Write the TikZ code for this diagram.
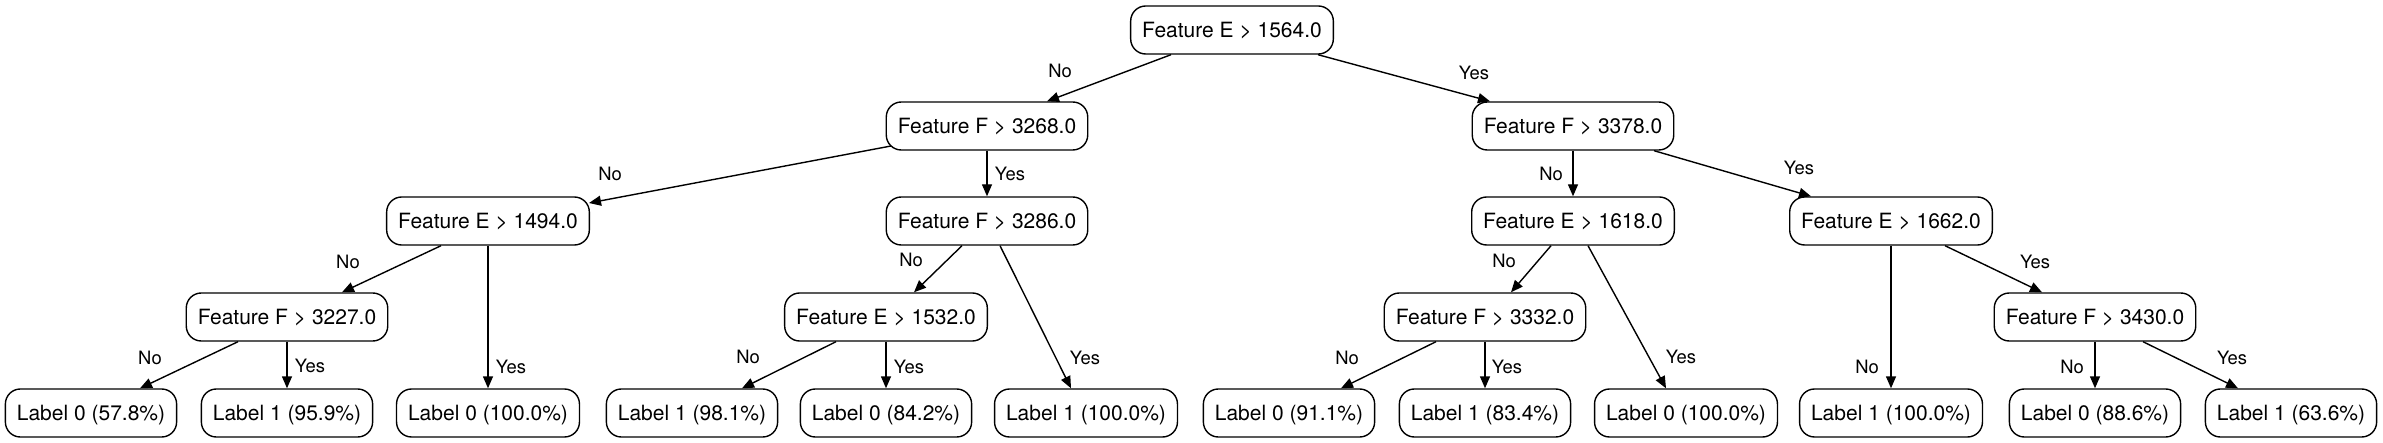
\documentclass[tikz,border=0pt]{standalone}
\usepackage{fontspec}
\setmainfont{TeX Gyre Heros}
\usetikzlibrary{arrows.meta,calc}

\begin{document}
\begin{tikzpicture}[
	x=0.5pt, y=-0.5pt,
	cond/.style={
		draw, rounded corners=7.5pt, line width=0.7pt,
		minimum height=24pt, inner xsep=5.75pt, inner ysep=0pt,
		text height=7.6pt, text depth=0pt,
		font=\fontsize{10.5}{12}\selectfont
	},
	leaf/.style={cond},
	branch/.style={-{Triangle[length=6pt,width=5pt]}, line width=0.7pt},
	answer/.style={font=\fontsize{9.2}{11}\selectfont, inner sep=0pt}
	]
	\useasboundingbox (0,0) rectangle (2383,443);
	% split nodes
	\node[cond] (root) at (1232,30) {Feature E > 1564.0};
	\node[cond] (n1) at (987,126) {Feature F > 3268.0};
	\node[cond] (n2) at (1573,126) {Feature F > 3378.0};
	\node[cond] (n3) at (488,221) {Feature E > 1494.0};
	\node[cond] (n4) at (987,221) {Feature F > 3286.0};
	\node[cond] (n5) at (1573,221) {Feature E > 1618.0};
	\node[cond] (n6) at (1891,221) {Feature E > 1662.0};
	\node[cond] (n7) at (287,317) {Feature F > 3227.0};
	\node[cond] (n8) at (886,317) {Feature E > 1532.0};
	\node[cond] (n9) at (1485,317) {Feature F > 3332.0};
	\node[cond] (n10) at (2095,317) {Feature F > 3430.0};
	% leaves
	\node[leaf] (l1) at (91,413) {Label 0 (57.8\%)};
	\node[leaf] (l2) at (287,413) {Label 1 (95.9\%)};
	\node[leaf] (l3) at (488,413) {Label 0 (100.0\%)};
	\node[leaf] (l4) at (692,413) {Label 1 (98.1\%)};
	\node[leaf] (l5) at (886,413) {Label 0 (84.2\%)};
	\node[leaf] (l6) at (1086,413) {Label 1 (100.0\%)};
	\node[leaf] (l7) at (1289,413) {Label 0 (91.1\%)};
	\node[leaf] (l8) at (1485,413) {Label 1 (83.4\%)};
	\node[leaf] (l9) at (1686,413) {Label 0 (100.0\%)};
	\node[leaf] (l10) at (1891,413) {Label 1 (100.0\%)};
	\node[leaf] (l11) at (2095,413) {Label 0 (88.6\%)};
	\node[leaf] (l12) at (2291,413) {Label 1 (63.6\%)};
	% branches
	\draw[branch] ($(root.south)+(-61,0)$) -- ($(n1.north)+(60,0)$);
	\draw[branch] ($(root.south)+(86,0)$) -- ($(n2.north)+(-83,0)$);
	\draw[branch] ($(n1)+(-96,20)$) -- ($(n3)+(101,-18)$);
	\draw[branch] (n1) -- (n4);
	\draw[branch] (n2) -- (n5);
	\draw[branch] ($(n2.south)+(81,0)$) -- ($(n6.north)+(-80,0)$);
	\draw[branch] ($(n3.south)+(-47,0)$) -- ($(n7.north)+(55,0)$);
	\draw[branch] (n3) -- (l3);
	\draw[branch] ($(n4.south)+(-25,0)$) -- ($(n8.north)+(28,0)$);
	\draw[branch] ($(n4.south)+(13,0)$) -- ($(l6.north)+(-15,0)$);
	\draw[branch] ($(n5.south)+(-22,0)$) -- ($(n9.north)+(26,0)$);
	\draw[branch] ($(n5.south)+(15,0)$) -- ($(l9.north)+(-20,0)$);
	\draw[branch] (n6) -- (l10);
	\draw[branch] ($(n6.south)+(54,0)$) -- ($(n10.north)+(-53,0)$);
	\draw[branch] ($(n7.south)+(-49,0)$) -- ($(l1.north)+(49,0)$);
	\draw[branch] (n7) -- (l2);
	\draw[branch] ($(n8.south)+(-50,0)$) -- ($(l4.north)+(50,0)$);
	\draw[branch] (n8) -- (l5);
	\draw[branch] ($(n9.south)+(-49,0)$) -- ($(l7.north)+(52,0)$);
	\draw[branch] (n9) -- (l8);
	\draw[branch] (n10) -- (l11);
	\draw[branch] ($(n10.south)+(48,0)$) -- ($(l12.north)+(-53,0)$);
	% answers
	\node[answer] (a1) at (1060,71) {No};
	\node[answer] (a2) at (1474,73) {Yes};
	\node[answer] (a3) at (610,174) {No};
	\node[answer] (a4) at (1010,174) {Yes};
	\node[answer] (a5) at (1551,174) {No};
	\node[answer] (a6) at (1799,168) {Yes};
	\node[answer] (a7) at (348,262) {No};
	\node[answer] (a8) at (511,367) {Yes};
	\node[answer] (a9) at (911,260) {No};
	\node[answer] (a10) at (1085,358) {Yes};
	\node[answer] (a11) at (1504,261) {No};
	\node[answer] (a12) at (1681,357) {Yes};
	\node[answer] (a13) at (1867,367) {No};
	\node[answer] (a14) at (2035,262) {Yes};
	\node[answer] (a15) at (150,358) {No};
	\node[answer] (a16) at (310,366) {Yes};
	\node[answer] (a17) at (748,357) {No};
	\node[answer] (a18) at (909,367) {Yes};
	\node[answer] (a19) at (1347,358) {No};
	\node[answer] (a20) at (1507,367) {Yes};
	\node[answer] (a21) at (2072,367) {No};
	\node[answer] (a22) at (2232,358) {Yes};
\end{tikzpicture}
\end{document}
